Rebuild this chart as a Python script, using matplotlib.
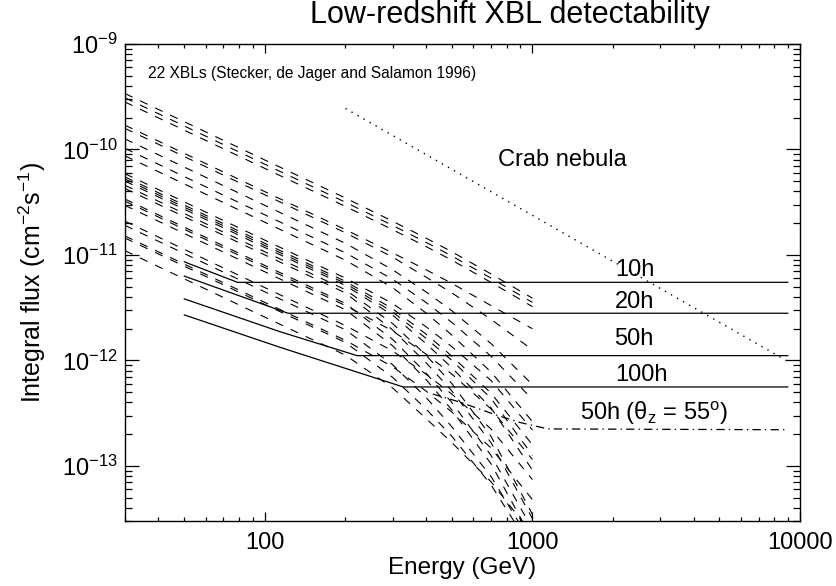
import numpy as np
import matplotlib
matplotlib.use("Agg")
import matplotlib.pyplot as plt

plt.rcParams['font.family'] = ['Liberation Sans', 'DejaVu Sans']
plt.rcParams['mathtext.fontset'] = 'custom'
plt.rcParams['mathtext.rm'] = 'Liberation Sans'
plt.rcParams['mathtext.it'] = 'Liberation Sans:italic'
plt.rcParams['mathtext.sf'] = 'Liberation Sans'
plt.rcParams['lines.scale_dashes'] = False

# energies (GeV) at which the 22 XBL curves were read
xbl_energy = [30, 100, 200, 300, 400, 500, 700, 1000]
# log10 of integral flux (cm^-2 s^-1), one row per XBL
xbl_log_flux = [
    [-9.47, -10.10, -10.46, -10.68, -10.84, -10.97, -11.18, -11.41],
    [-9.51, -10.14, -10.50, -10.72, -10.88, -11.01, -11.22, -11.45],
    [-9.55, -10.18, -10.54, -10.76, -10.92, -11.05, -11.26, -11.49],
    [-9.77, -10.40, -10.76, -10.98, -11.14, -11.27, -11.48, -11.70],
    [-9.80, -10.43, -10.79, -11.02, -11.21, -11.36, -11.61, -11.90],
    [-9.90, -10.53, -10.89, -11.14, -11.35, -11.53, -11.84, -12.23],
    [-9.99, -10.62, -10.98, -11.23, -11.45, -11.64, -11.96, -12.37],
    [-10.06, -10.69, -11.05, -11.31, -11.55, -11.76, -12.11, -12.58],
    [-10.23, -10.86, -11.22, -11.46, -11.68, -11.87, -12.19, -12.66],
    [-10.26, -10.89, -11.25, -11.51, -11.75, -11.96, -12.31, -12.80],
    [-10.28, -10.91, -11.27, -11.54, -11.79, -12.00, -12.36, -12.90],
    [-10.30, -10.93, -11.29, -11.57, -11.84, -12.07, -12.45, -13.04],
    [-10.34, -10.97, -11.33, -11.65, -11.95, -12.22, -12.72, -13.46],
    [-10.37, -11.00, -11.36, -11.71, -12.02, -12.29, -12.78, -13.50],
    [-10.47, -11.10, -11.46, -11.80, -12.12, -12.40, -12.90, -13.60],
    [-10.49, -11.12, -11.48, -11.72, -11.94, -12.13, -12.46, -12.94],
    [-10.53, -11.16, -11.52, -11.86, -12.18, -12.47, -12.98, -13.70],
    [-10.68, -11.31, -11.67, -11.91, -12.13, -12.32, -12.65, -13.13],
    [-10.72, -11.35, -11.71, -12.04, -12.35, -12.63, -13.10, -13.75],
    [-10.82, -11.45, -11.81, -12.06, -12.29, -12.49, -12.83, -13.32],
    [-10.84, -11.47, -11.83, -12.16, -12.46, -12.72, -13.18, -13.80],
    [-10.96, -11.59, -11.95, -12.26, -12.55, -12.78, -13.15, -13.65],
]

# Crab nebula integral flux
crab_energy = [200, 9000]
crab_flux = [2.45e-10, 9.8e-13]

# sensitivity curves for different observation times
sens_10h_energy = [50, 79, 9000]
sens_10h_flux = [8.6e-12, 5.5e-12, 5.5e-12]
sens_20h_energy = [50, 122, 9000]
sens_20h_flux = [6.3e-12, 2.8e-12, 2.8e-12]
sens_50h_energy = [50, 114, 221, 9000]
sens_50h_flux = [3.83e-12, 1.87e-12, 1.11e-12, 1.11e-12]
sens_100h_energy = [50, 114, 329, 9000]
sens_100h_flux = [2.70e-12, 1.33e-12, 5.6e-13, 5.6e-13]
# 50h at zenith angle 55 deg
sens_55_energy = [424, 540, 742, 904, 1143, 9000]
sens_55_flux = [4.8e-13, 4.0e-13, 3.0e-13, 2.57e-13, 2.24e-13, 2.2e-13]

fig = plt.figure(figsize=(8.37, 5.86), dpi=100)
ax = fig.add_axes([0.1493, 0.1109, 0.8065, 0.814])

for row in xbl_log_flux:
    ax.plot(xbl_energy, 10.0 ** np.array(row), color='black', lw=0.8,
            linestyle=(0, (6, 6)))

ax.plot(crab_energy, crab_flux, color='black', lw=1.0, linestyle=(0, (1, 4)))
for e, f in [(sens_10h_energy, sens_10h_flux), (sens_20h_energy, sens_20h_flux),
             (sens_50h_energy, sens_50h_flux), (sens_100h_energy, sens_100h_flux)]:
    ax.plot(e, f, color='black', lw=0.9)
ax.plot(sens_55_energy, sens_55_flux, color='black', lw=0.9,
        linestyle=(0, (6, 3, 1, 3)))

ax.set_xscale('log')
ax.set_yscale('log')
ax.set_xlim(30, 10000)
ax.set_ylim(3e-14, 1e-9)

ax.set_xticks([100, 1000, 10000])
ax.set_xticklabels(['100', '1000', '10000'])
ax.set_yticks([1e-13, 1e-12, 1e-11, 1e-10, 1e-9])
ax.tick_params(which='both', direction='in', top=True, right=True,
               labelsize=17, color='black', width=0.9)
ax.tick_params(axis='x', which='major', length=6.5, pad=8)
ax.tick_params(axis='x', which='minor', length=3.2)
ax.tick_params(axis='y', which='major', length=10, pad=5)
ax.tick_params(axis='y', which='minor', length=5)
for s in ax.spines.values():
    s.set_linewidth(1.0)

ax.set_xlabel('Energy (GeV)', fontsize=17.5, labelpad=2)
ax.set_ylabel('Integral flux (cm$^{-2}$s$^{-1}$)', fontsize=18, labelpad=10)
fig.text(0.609, 0.974, 'Low-redshift XBL detectability', fontsize=22,
         ha='center', va='center')

ax.text(0.034, 0.939, '22 XBLs (Stecker, de Jager and Salamon 1996)',
        transform=ax.transAxes, fontsize=11.2, va='center')
ax.text(0.553, 0.757, 'Crab nebula', transform=ax.transAxes, fontsize=17,
        va='center')
ax.text(0.726, 0.527, '10h', transform=ax.transAxes, fontsize=17, va='center')
ax.text(0.726, 0.460, '20h', transform=ax.transAxes, fontsize=17, va='center')
ax.text(0.725, 0.381, '50h', transform=ax.transAxes, fontsize=17, va='center')
ax.text(0.726, 0.307, '100h', transform=ax.transAxes, fontsize=17, va='center')
ax.text(0.674, 0.226, '50h (θ$_{\\rm z}$ = 55$^{\\rm o}$)',
        transform=ax.transAxes, fontsize=17, va='center')

fig.savefig('out.png', dpi=100)
